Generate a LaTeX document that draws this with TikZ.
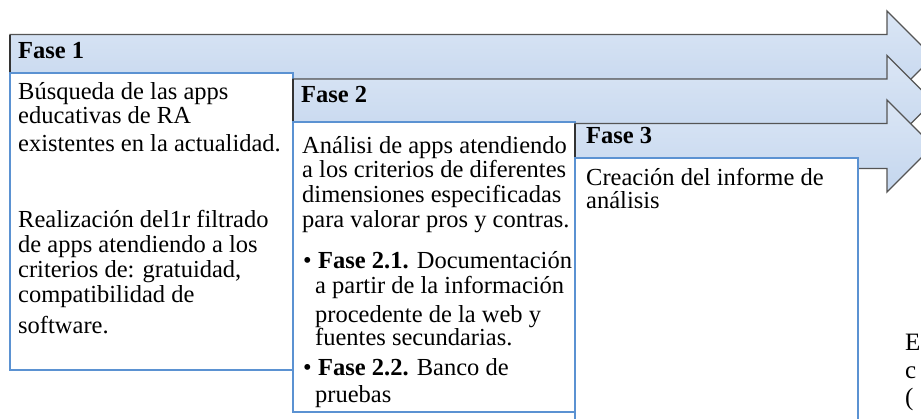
\documentclass[tikz,border=0pt]{standalone}
\usepackage{fontspec}
\setmainfont{Liberation Serif}
\definecolor{arrtop}{RGB}{219,230,245}
\definecolor{arrbot}{RGB}{196,214,238}
\definecolor{arredge}{RGB}{85,85,85}
\definecolor{boxblue}{RGB}{91,146,210}
\begin{document}
\begin{tikzpicture}[x=1pt,y=-1pt,
  arrowshape/.style={draw=arredge, line width=1.3pt, top color=arrtop, bottom color=arrbot, line join=miter},
  leftedge/.style={draw=black!80, line width=2.4pt},
  phasebox/.style={draw=boxblue, line width=1.8pt, fill=white},
  txt/.style={anchor=base west, inner sep=0pt, font=\fontsize{24.5}{25}\selectfont, text=black},
  head/.style={txt, font=\fontsize{24.5}{25}\selectfont\bfseries}]
\useasboundingbox (0,0) rectangle (921,418);
\clip (0,0) rectangle (921,418);
\fill[white] (0,0) rectangle (921,418);

% Arrow 1
\path[arrowshape] (10,34.5) -- (887,34.5) -- (887,11) -- (933,57) -- (887,103) -- (887,79.5) -- (10,79.5) -- cycle;
\draw[leftedge] (10,34.5) -- (10,79.5);
\node[head] (ph1) at (18,58) {Fase 1};
\path[phasebox] (10,73) rectangle (293,370);
\node[txt] (l1a) at (18,99) {Búsqueda de las apps};
\node[txt] (l1b) at (18,123) {educativas de RA};
\node[txt] (l1c) at (18,151) {existentes en la actualidad.};
\node[txt] (l1d) at (18,227) {Realización del1r filtrado};
\node[txt] (l1e) at (18,252) {de apps atendiendo a los};
\node[txt] (l1f) at (18,277) {criterios de: gratuidad,};
\node[txt] (l1g) at (18,302) {compatibilidad de};
\node[txt] (l1h) at (18,333) {software.};

% Arrow 2
\path[arrowshape] (293,79) -- (887,79) -- (887,55.5) -- (933,101.5) -- (887,147.5) -- (887,124) -- (293,124) -- cycle;
\draw[leftedge] (293,79) -- (293,124);
\node[head] (ph2) at (301,102) {Fase 2};
\path[phasebox] (293,122) rectangle (575,412);
\node[txt] (l2a) at (302,153) {Análisi de apps atendiendo};
\node[txt] (l2b) at (302,177) {a los criterios de diferentes};
\node[txt] (l2c) at (302,202) {dimensiones especificadas};
\node[txt] (l2d) at (302,227) {para valorar pros y contras.};
\node[txt] (l2e) at (303,268) {\makebox[15pt][l]{\textbullet}\textbf{Fase 2.1.} Documentación};
\node[txt] (l2f) at (315,293) {a partir de la información};
\node[txt] (l2g) at (315,322) {procedente de la web y};
\node[txt] (l2h) at (315,345) {fuentes secundarias.};
\node[txt] (l2i) at (303,375) {\makebox[15pt][l]{\textbullet}\textbf{Fase 2.2.} Banco de};
\node[txt] (l2j) at (315,402) {pruebas};

% Arrow 3
\path[arrowshape] (575,123.5) -- (887,123.5) -- (887,100) -- (933,146) -- (887,192) -- (887,168.5) -- (575,168.5) -- cycle;
\draw[leftedge] (575,123.5) -- (575,160);
\node[head] (ph3) at (586,143) {Fase 3};
\path[phasebox] (575,158) rectangle (858,440);
\node[txt] (l3a) at (586,185) {Creación del informe de};
\node[txt] (l3b) at (586,208) {análisis};

% cut-off text at the right edge
\node[txt, font=\fontsize{25}{28}\selectfont] (e1) at (905,350) {E};
\node[txt, font=\fontsize{25}{28}\selectfont] (e2) at (905,378) {c};
\node[txt, font=\fontsize{25}{28}\selectfont] (e3) at (905,405) {(};
\end{tikzpicture}
\end{document}
